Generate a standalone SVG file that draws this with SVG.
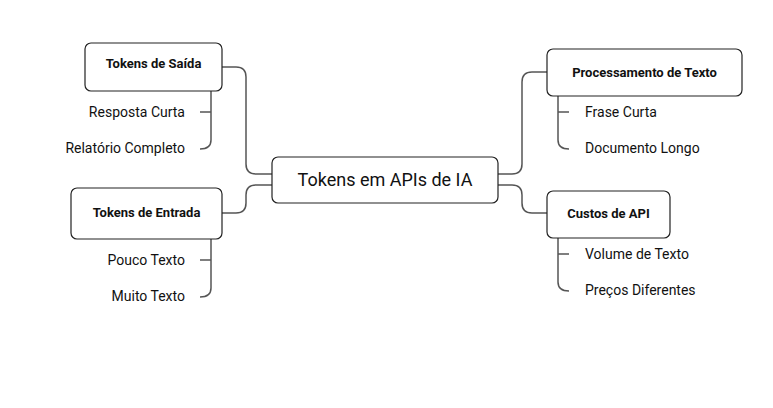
<svg xmlns="http://www.w3.org/2000/svg" width="773" height="408" viewBox="0 0 773 408">
<style>
.box{fill:#fff;stroke:#222;stroke-width:1.2}
.c{fill:none;stroke:#555;stroke-width:1.5}
text{font-family:Roboto,"Liberation Sans",sans-serif;fill:#111}
.b{font-weight:bold;font-size:13px}
.l{font-size:14px}
</style>
<rect width="773" height="408" fill="#fff"/>
<g id="connectors">
<path class="c" d="M222 67 H236 Q246 67 246 77 V164 Q246 174 256 174 H272"/>
<path class="c" d="M222 213 H236 Q246 213 246 203 V195 Q246 185 256 185 H272"/>
<path class="c" d="M498 174 H512 Q522 174 522 164 V82 Q522 72 532 72 H547"/>
<path class="c" d="M498 185 H512 Q522 185 522 195 V203 Q522 213 532 213 H547"/>
<path class="c" d="M211 91 V140 Q211 149 200 149 M200 112 H211"/>
<path class="c" d="M211 239 V288 Q211 297 200 297 M200 260 H211"/>
<path class="c" d="M558 96 V140 Q558 149 569 149 M558 112 H569"/>
<path class="c" d="M558 238 V282 Q558 291 569 291 M558 254 H569"/>
</g>
<g id="root"><rect class="box" x="272" y="157" width="226" height="46" rx="6"/><text x="385" y="186" text-anchor="middle" font-size="18">Tokens em APIs de IA</text></g>
<g id="saida"><rect class="box" x="85" y="43" width="137" height="48" rx="6"/><text class="b" x="153.5" y="68" text-anchor="middle">Tokens de Saída</text></g>
<g id="entrada"><rect class="box" x="71" y="188" width="151" height="51" rx="6"/><text class="b" x="146.5" y="217" text-anchor="middle">Tokens de Entrada</text></g>
<g id="proc"><rect class="box" x="547" y="49" width="195" height="47" rx="6"/><text class="b" x="644.5" y="77" text-anchor="middle">Processamento de Texto</text></g>
<g id="custos"><rect class="box" x="547" y="191" width="123" height="47" rx="6"/><text class="b" x="608.5" y="218" text-anchor="middle">Custos de API</text></g>
<g id="leaves">
<text class="l" x="185" y="117" text-anchor="end">Resposta Curta</text>
<text class="l" x="185" y="153" text-anchor="end">Relatório Completo</text>
<text class="l" x="185" y="265" text-anchor="end">Pouco Texto</text>
<text class="l" x="185" y="301" text-anchor="end">Muito Texto</text>
<text class="l" x="585" y="117">Frase Curta</text>
<text class="l" x="585" y="153">Documento Longo</text>
<text class="l" x="585" y="259">Volume de Texto</text>
<text class="l" x="585" y="295">Preços Diferentes</text>
</g>
</svg>
